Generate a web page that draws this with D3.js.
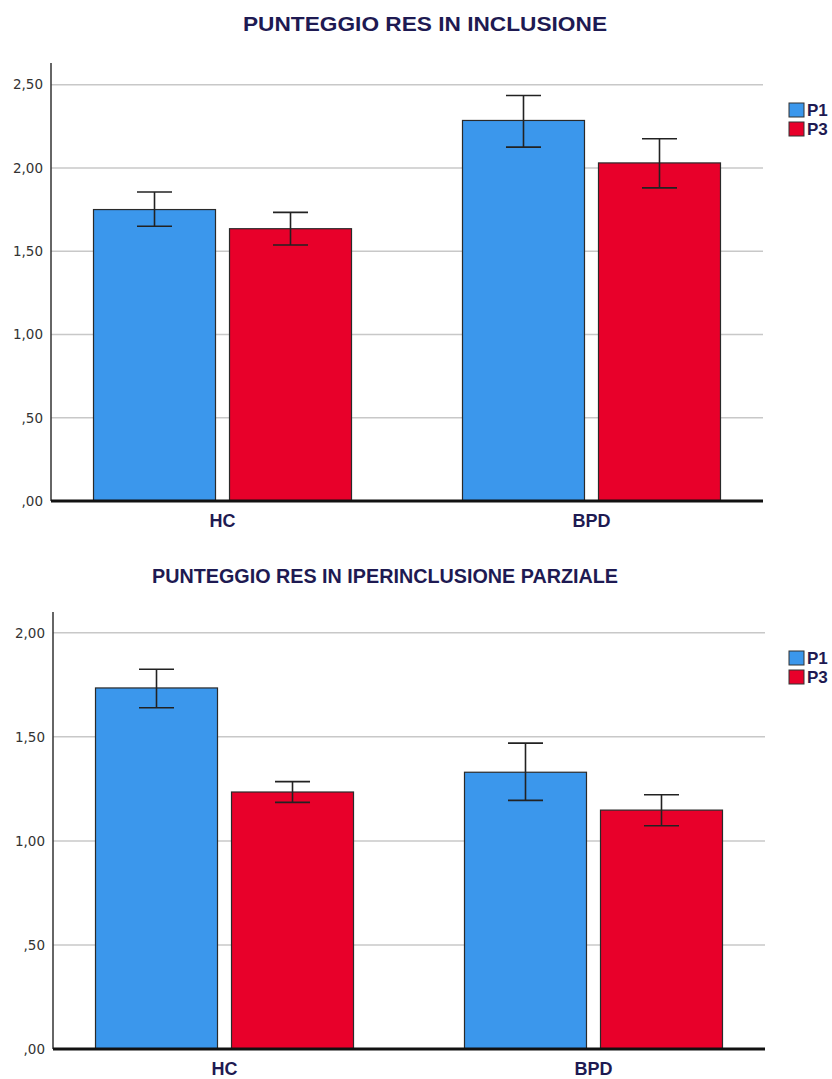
<!DOCTYPE html>
<html>
<head>
<meta charset="utf-8">
<script src="https://cdn.jsdelivr.net/npm/d3@7"></script>
<style>
  html, body { margin: 0; padding: 0; background: #fff; }
  svg { display: block; }
</style>
</head>
<body>
<svg id="chart" width="832" height="1079"></svg>
<script>
// Groups and series
const categories = ["HC", "BPD"];
const seriesNames = ["P1", "P3"];

// Panel 1: PUNTEGGIO RES IN INCLUSIONE (means and error bar ends)
const inclP1 = [1.75, 2.285];
const inclP3 = [1.635, 2.03];
const inclP1Low = [1.65, 2.125];
const inclP1High = [1.855, 2.435];
const inclP3Low = [1.537, 1.88];
const inclP3High = [1.733, 2.175];
const inclTicks = [0, 0.5, 1, 1.5, 2, 2.5];

// Panel 2: PUNTEGGIO RES IN IPERINCLUSIONE PARZIALE
const iperP1 = [1.735, 1.33];
const iperP3 = [1.235, 1.148];
const iperP1Low = [1.64, 1.195];
const iperP1High = [1.825, 1.47];
const iperP3Low = [1.185, 1.073];
const iperP3High = [1.285, 1.222];
const iperTicks = [0, 0.5, 1, 1.5, 2];

const colors = { P1: "#3b97ec", P3: "#e8002a" };
const navy = "#1e1a52";

const fmt = v => {
  const s = v.toFixed(2).replace(".", ",");
  return s.startsWith("0") ? s.slice(1) : s;
};

const svg = d3.select("#chart");

function drawPanel(opt) {
  const g = svg.append("g");

  const y = d3.scaleLinear().domain([0, opt.yMax]).range([opt.y0, opt.yTop]);
  const x0 = d3.scalePoint().domain(categories).range([opt.xLeft, opt.xRight]).padding(0.4648);
  const x1 = d3.scaleBand().domain(seriesNames).range([-129, 129]).paddingInner(0.103);

  // title
  g.append("text")
    .attr("x", opt.titleX).attr("y", opt.titleY)
    .attr("text-anchor", "middle")
    .attr("font-family", "Liberation Sans, Arial, sans-serif")
    .attr("font-weight", "bold").attr("font-size", 21)
    .attr("textLength", opt.titleWidth).attr("lengthAdjust", "spacingAndGlyphs")
    .attr("fill", navy)
    .text(opt.title);

  // gridlines
  g.selectAll("line.grid").data(opt.ticks.filter(t => t > 0)).join("line")
    .attr("class", "grid")
    .attr("x1", opt.xLeft).attr("x2", opt.xRight)
    .attr("y1", d => y(d)).attr("y2", d => y(d))
    .attr("stroke", "#c8c8c8").attr("stroke-width", 1.5);

  // y axis
  const axis = g.append("g").attr("transform", `translate(${opt.xLeft},0)`)
    .call(d3.axisLeft(y).tickValues(opt.ticks).tickFormat(fmt).tickSize(0).tickPadding(8));
  axis.select(".domain").attr("stroke", "#333").attr("stroke-width", 1.5)
    .attr("d", `M0,${opt.y0}V${opt.yTop}`);
  axis.selectAll("text")
    .attr("font-family", "DejaVu Sans, sans-serif").attr("font-size", 13.5)
    .attr("fill", "#333");

  // bars
  const rows = [];
  categories.forEach((c, i) => {
    seriesNames.forEach(s => {
      const d = opt.data[s];
      rows.push({ cat: c, series: s, value: d.mean[i], low: d.low[i], high: d.high[i] });
    });
  });

  const groups = g.selectAll("g.grp").data(rows).join("g")
    .attr("class", "grp")
    .attr("transform", d => `translate(${x0(d.cat)},0)`);

  groups.append("rect")
    .attr("x", d => x1(d.series))
    .attr("width", x1.bandwidth())
    .attr("y", d => y(d.value))
    .attr("height", d => y(0) - y(d.value))
    .attr("fill", d => colors[d.series])
    .attr("stroke", "#2a2a2a").attr("stroke-width", 1.2);

  // error bars
  const cap = 17.5;
  groups.each(function (d) {
    const cx = x1(d.series) + x1.bandwidth() / 2;
    const e = d3.select(this).append("g")
      .attr("stroke", "#222").attr("stroke-width", 1.6).attr("fill", "none");
    e.append("line").attr("x1", cx).attr("x2", cx).attr("y1", y(d.high)).attr("y2", y(d.low));
    e.append("line").attr("x1", cx - cap).attr("x2", cx + cap).attr("y1", y(d.high)).attr("y2", y(d.high));
    e.append("line").attr("x1", cx - cap).attr("x2", cx + cap).attr("y1", y(d.low)).attr("y2", y(d.low));
  });

  // baseline
  g.append("line")
    .attr("x1", opt.xLeft).attr("x2", opt.xRight)
    .attr("y1", y(0)).attr("y2", y(0))
    .attr("stroke", "#111").attr("stroke-width", 3);

  // category labels
  g.selectAll("text.cat").data(categories).join("text")
    .attr("class", "cat")
    .attr("x", d => x0(d)).attr("y", y(0) + 26)
    .attr("text-anchor", "middle")
    .attr("font-family", "Liberation Sans, Arial, sans-serif")
    .attr("font-weight", "bold").attr("font-size", 18)
    .attr("fill", navy)
    .text(d => d);

  // legend
  const lg = g.append("g").attr("transform", `translate(789,${opt.legendY})`);
  seriesNames.forEach((s, i) => {
    lg.append("rect")
      .attr("x", 0).attr("y", i * 19)
      .attr("width", 15).attr("height", 14)
      .attr("fill", colors[s]).attr("stroke", "#333").attr("stroke-width", 1);
    lg.append("text")
      .attr("x", 18).attr("y", i * 19 + 13)
      .attr("font-family", "Liberation Sans, Arial, sans-serif")
      .attr("font-weight", "bold").attr("font-size", 17)
      .attr("fill", navy)
      .text(s);
  });
}

drawPanel({
  title: "PUNTEGGIO RES IN INCLUSIONE",
  titleX: 425, titleY: 31, titleWidth: 364,
  yMax: 2.63, y0: 501, yTop: 63,
  xLeft: 51, xRight: 763,
  ticks: inclTicks,
  legendY: 103,
  data: {
    P1: { mean: inclP1, low: inclP1Low, high: inclP1High },
    P3: { mean: inclP3, low: inclP3Low, high: inclP3High }
  }
});

drawPanel({
  title: "PUNTEGGIO RES IN IPERINCLUSIONE PARZIALE",
  titleX: 385, titleY: 583, titleWidth: 466,
  yMax: 2.1, y0: 1049, yTop: 612,
  xLeft: 53, xRight: 765,
  ticks: iperTicks,
  legendY: 651,
  data: {
    P1: { mean: iperP1, low: iperP1Low, high: iperP1High },
    P3: { mean: iperP3, low: iperP3Low, high: iperP3High }
  }
});
</script>
</body>
</html>
